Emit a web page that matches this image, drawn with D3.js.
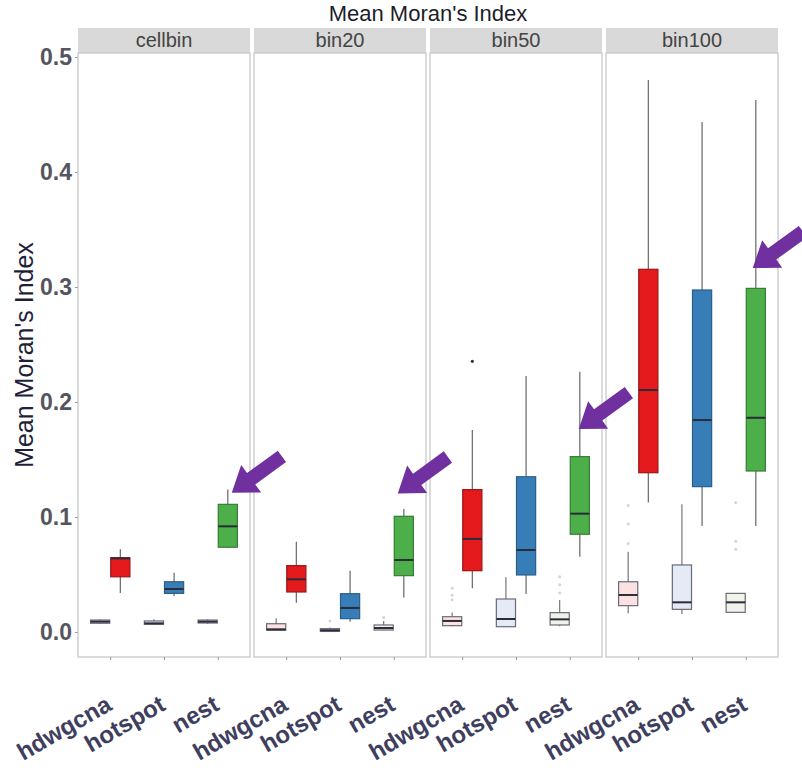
<!DOCTYPE html>
<html>
<head>
<meta charset="utf-8">
<script src="https://cdn.jsdelivr.net/npm/d3@7"></script>
<style>
  body { margin: 0; background: #fff; }
  svg { display: block; font-family: "Liberation Sans", Arial, sans-serif; }
</style>
</head>
<body>
<svg id="chart" width="802" height="768"></svg>
<script>
// facets, x categories and the two dodged box groups
const panels = ['cellbin', 'bin20', 'bin50', 'bin100'];
const methods = ['hdwgcna', 'hotspot', 'nest'];
const groups = ['light', 'full'];
const yTicks = [0.0, 0.1, 0.2, 0.3, 0.4, 0.5];

// box stats per panel: one row per method x group -> [lower whisker, q1, median, q3, upper whisker]
const cellbinStats = [
  [0.007, 0.0076, 0.009, 0.0104, 0.011],   // hdwgcna light
  [0.034, 0.048, 0.064, 0.0646, 0.072],    // hdwgcna full
  [0.0062, 0.0067, 0.0075, 0.0096, 0.011], // hotspot light
  [0.031, 0.0336, 0.0374, 0.0437, 0.0516], // hotspot full
  [0.007, 0.0078, 0.009, 0.0104, 0.011],   // nest light
  [0.073, 0.0737, 0.0919, 0.111, 0.124]    // nest full
];
const bin20Stats = [
  [0.001, 0.0015, 0.0023, 0.0072, 0.012],
  [0.0255, 0.0348, 0.0458, 0.0577, 0.0785],
  [0.0003, 0.0005, 0.0015, 0.0029, 0.004],
  [0.009, 0.0116, 0.0209, 0.0333, 0.0533],
  [0.0015, 0.0017, 0.0035, 0.0061, 0.0096],
  [0.030, 0.049, 0.0626, 0.1006, 0.107]
];
const bin50Stats = [
  [0.005, 0.0055, 0.0096, 0.0133, 0.017],
  [0.038, 0.0533, 0.0809, 0.1238, 0.1757],
  [0.0046, 0.0046, 0.0113, 0.0287, 0.0476],
  [0.033, 0.0496, 0.0713, 0.135, 0.2226],
  [0.005, 0.0061, 0.011, 0.0168, 0.0278],
  [0.0655, 0.085, 0.1029, 0.1525, 0.2264]
];
const bin100Stats = [
  [0.0163, 0.0229, 0.0322, 0.0437, 0.0698],
  [0.1125, 0.1385, 0.2104, 0.3154, 0.48],
  [0.0157, 0.0197, 0.0258, 0.0583, 0.111],
  [0.0922, 0.1264, 0.1843, 0.2974, 0.4435],
  [0.0171, 0.0171, 0.0258, 0.0336, 0.0336],
  [0.0922, 0.14, 0.1863, 0.2988, 0.4626]
];
const statsByPanel = [cellbinStats, bin20Stats, bin50Stats, bin100Stats];

// outliers: [panel, method, group, value]
const outliers = [
  ['bin20', 'hotspot', 'light', 0.0096],
  ['bin20', 'nest', 'light', 0.0125],
  ['bin50', 'hdwgcna', 'light', 0.028],
  ['bin50', 'hdwgcna', 'light', 0.032],
  ['bin50', 'hdwgcna', 'light', 0.038],
  ['bin50', 'hdwgcna', 'full', 0.2354],
  ['bin50', 'nest', 'light', 0.034],
  ['bin50', 'nest', 'light', 0.041],
  ['bin50', 'nest', 'light', 0.048],
  ['bin100', 'hdwgcna', 'light', 0.077],
  ['bin100', 'hdwgcna', 'light', 0.094],
  ['bin100', 'hdwgcna', 'light', 0.110],
  ['bin100', 'nest', 'light', 0.072],
  ['bin100', 'nest', 'light', 0.079],
  ['bin100', 'nest', 'light', 0.1125]
];

// purple annotation arrows: tip sits next to each nest box
const arrowPanels = ['cellbin', 'bin20', 'bin50', 'bin100'];
const arrowTipValues = [0.121, 0.1205, 0.1765, 0.3165];
const arrowTipShift = [14, 4, 9, 7];

const fullColors = ['#E41A1C', '#377EB8', '#4DAF4A'];
const fullStroke = ['#9E1416', '#2A5E88', '#377D35'];
const lightColors = ['#FBE1E1', '#E5EBF6', '#EEF4E7'];

const svg = d3.select('#chart');
const W = 802, H = 768;
svg.append('rect').attr('width', W).attr('height', H).attr('fill', '#fff');

const plotTop = 53, plotBottom = 657, stripH = 25;

const fx = d3.scaleBand().domain(panels).range([78, 778]).paddingInner(4 / 176);
const x = d3.scalePoint().domain(methods).range([0, fx.bandwidth()]).padding(0.6);
const boxW = x.step() * 0.75;
const dodge = d3.scaleBand().domain(groups).range([-boxW / 2, boxW / 2]);
const y = d3.scaleLinear().domain([-0.02174, 0.50348]).range([plotBottom, plotTop]);

// title
svg.append('text')
  .attr('x', (fx.range()[0] + fx.range()[1]) / 2)
  .attr('y', 21)
  .attr('text-anchor', 'middle')
  .attr('font-size', 22)
  .attr('fill', '#1c1c2a')
  .text("Mean Moran's Index");

// y axis title
svg.append('text')
  .attr('transform', `translate(33,355) rotate(-90)`)
  .attr('text-anchor', 'middle')
  .attr('font-size', 25)
  .attr('fill', '#1f1f3a')
  .text("Mean Moran's Index");

// y axis
const yAxis = d3.axisLeft(y).tickValues(yTicks).tickFormat(d3.format('.1f')).tickSize(3).tickPadding(3);
const yg = svg.append('g').attr('transform', `translate(${fx.range()[0]},0)`).call(yAxis);
yg.select('.domain').remove();
yg.selectAll('line').attr('stroke', '#999');
yg.selectAll('text')
  .attr('font-size', 23)
  .attr('font-weight', 'bold')
  .attr('fill', '#555560')
  .attr('font-family', '"Liberation Sans", Arial, sans-serif');

panels.forEach((p, pi) => {
  const g = svg.append('g').attr('transform', `translate(${fx(p)},0)`);
  const bw = fx.bandwidth();

  // strip
  g.append('rect')
    .attr('x', 0).attr('y', plotTop - stripH)
    .attr('width', bw).attr('height', stripH)
    .attr('fill', '#D9D9D9');
  g.append('text')
    .attr('x', bw / 2).attr('y', plotTop - 6)
    .attr('text-anchor', 'middle')
    .attr('font-size', 20)
    .attr('fill', '#444')
    .text(p);

  // panel frame
  g.append('rect')
    .attr('x', 0).attr('y', plotTop)
    .attr('width', bw).attr('height', plotBottom - plotTop)
    .attr('fill', '#fff')
    .attr('stroke', '#C4C4C4')
    .attr('stroke-width', 1.2);

  // x axis
  const xg = g.append('g').attr('transform', `translate(0,${plotBottom})`)
    .call(d3.axisBottom(x).tickSize(3).tickFormat(''));
  xg.select('.domain').remove();
  xg.selectAll('line').attr('stroke', '#999');

  methods.forEach(m => {
    g.append('text')
      .attr('transform', `translate(${x(m) + 3},${plotBottom + 52}) rotate(-30)`)
      .attr('text-anchor', 'end')
      .attr('font-size', 24)
      .attr('font-weight', 'bold')
      .attr('fill', '#3e3e5e')
      .text(m);
  });

  // boxes
  const rows = statsByPanel[pi].map((s, i) => ({
    method: methods[Math.floor(i / 2)],
    mi: Math.floor(i / 2),
    group: groups[i % 2],
    lo: s[0], q1: s[1], med: s[2], q3: s[3], hi: s[4]
  }));

  const bx = g.selectAll('g.box').data(rows).join('g').attr('class', 'box')
    .attr('transform', d => `translate(${x(d.method) + dodge(d.group)},0)`);
  const dw = dodge.bandwidth();

  bx.append('line')
    .attr('x1', dw / 2).attr('x2', dw / 2)
    .attr('y1', d => y(d.hi)).attr('y2', d => y(d.lo))
    .attr('stroke', d => d.group === 'full' ? '#666' : '#777')
    .attr('stroke-width', 1.2);
  bx.append('rect')
    .attr('x', 0.5).attr('width', dw - 1)
    .attr('y', d => y(d.q3))
    .attr('height', d => Math.max(1.5, y(d.q1) - y(d.q3)))
    .attr('fill', d => d.group === 'full' ? fullColors[d.mi] : lightColors[d.mi])
    .attr('stroke', d => d.group === 'full' ? fullStroke[d.mi] : '#6a6a78')
    .attr('stroke-width', 1.2);
  bx.append('line')
    .attr('x1', 0.5).attr('x2', dw - 0.5)
    .attr('y1', d => y(d.med)).attr('y2', d => y(d.med))
    .attr('stroke', '#2b2b3a')
    .attr('stroke-width', 2);

  // outliers
  g.selectAll('circle.out')
    .data(outliers.filter(o => o[0] === p))
    .join('circle').attr('class', 'out')
    .attr('cx', d => x(d[1]) + dodge(d[2]) + dw / 2)
    .attr('cy', d => y(d[3]))
    .attr('r', d => d[2] === 'full' ? 1.6 : 1.5)
    .attr('fill', d => d[2] === 'full' ? '#333' : '#d4d4da');
});

// arrows
const arrowL = 62, shaftW = 7, headL = 24, headW = 17;
const arrowShape = [[0, 0], [headL, -headW], [headL, -shaftW], [arrowL, -shaftW],
                    [arrowL, shaftW], [headL, shaftW], [headL, headW]];
svg.selectAll('path.arrow')
  .data(arrowPanels.map((p, i) => ({ p, v: arrowTipValues[i], s: arrowTipShift[i] })))
  .join('path').attr('class', 'arrow')
  .attr('d', d3.line()(arrowShape) + 'Z')
  .attr('transform', d => `translate(${fx(d.p) + x('nest') + d.s},${y(d.v)}) rotate(-36)`)
  .attr('fill', '#7030A0');
</script>
</body>
</html>
